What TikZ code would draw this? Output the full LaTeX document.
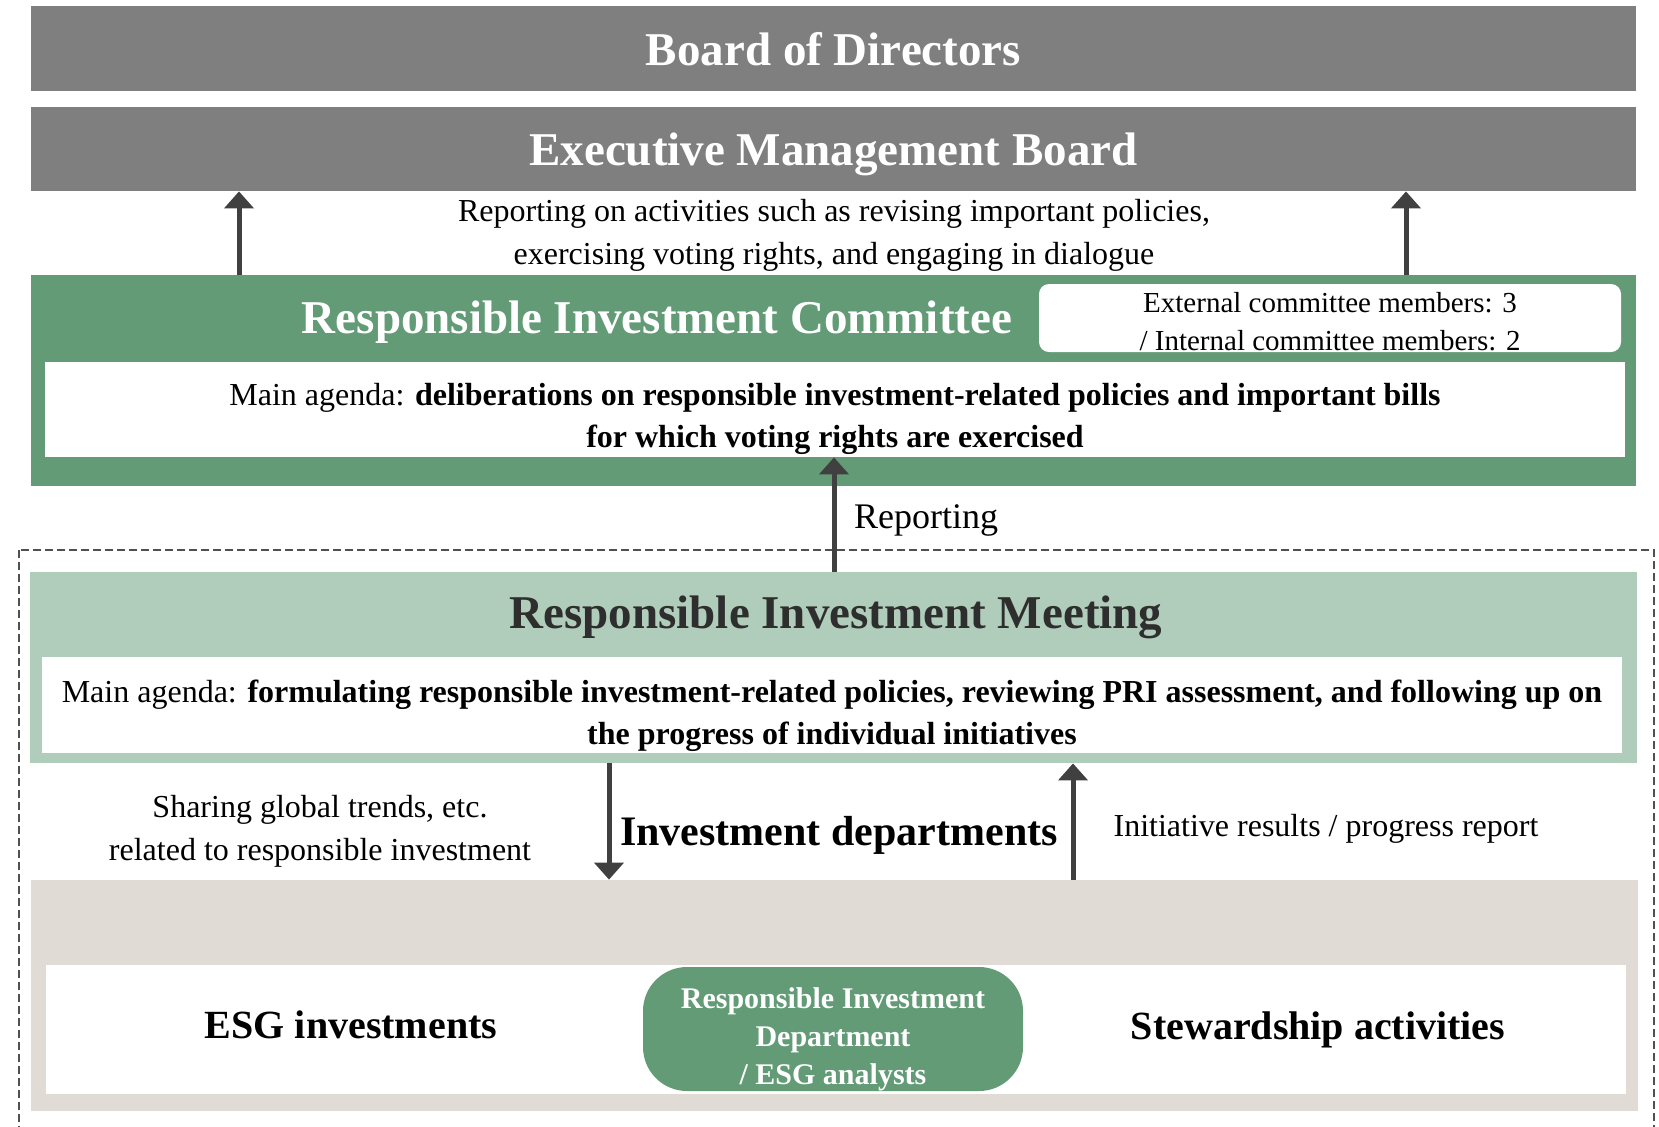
\documentclass[tikz,border=0pt]{standalone}
\usepackage{fontspec}
\setmainfont{Liberation Serif}
\usetikzlibrary{arrows.meta,calc,positioning}
\definecolor{gvgray}{HTML}{7F7F7F}
\definecolor{gvgreen}{HTML}{629B76}
\definecolor{gvpale}{HTML}{B0CCBB}
\definecolor{gvsand}{HTML}{E0DCD5}
\definecolor{gvarrow}{HTML}{404040}
\definecolor{gvtitle}{HTML}{2E2E2E}
\definecolor{gvdash}{HTML}{505050}
\tikzset{
  gvbar/.style={
    draw=none,
    inner sep=0pt,
    minimum width=802.5pt,
    align=center
  },
  gvgraybar/.style={
    gvbar,
    fill=gvgray,
    text=white,
    text depth=0pt,
    font=\fontsize{23.5}{28}\selectfont\bfseries
  },
  gvwhite/.style={
    draw=none,
    fill=white,
    inner sep=0pt,
    minimum width=790pt
  },
  gvagenda/.style={
    inner sep=0pt,
    align=center,
    font=\fontsize{16}{21}\selectfont
  },
  gvcard/.style={
    draw=none,
    fill=white,
    rounded corners=5pt,
    inner sep=0pt,
    minimum width=291pt,
    minimum height=34pt
  },
  gvdept/.style={
    draw=none,
    fill=gvgreen,
    rounded corners=22pt,
    inner sep=0pt,
    minimum width=190pt,
    minimum height=62pt
  },
  gvdepttext/.style={
    inner sep=0pt,
    align=center,
    text=white,
    font=\fontsize{15}{19}\selectfont\bfseries
  },
  gvtitle/.style={
    inner sep=0pt,
    text depth=0pt,
    font=\fontsize{23.5}{28}\selectfont\bfseries
  },
  gvnote/.style={
    inner sep=0pt,
    align=center,
    font=\fontsize{16}{21.5}\selectfont
  },
  gvfield/.style={
    inner sep=0pt,
    text depth=0pt,
    font=\fontsize{20}{24}\selectfont\bfseries
  },
  gvedge/.style={
    -{Triangle[length=8.5pt,width=14.5pt]},
    line width=2.5pt,
    color=gvarrow
  },
  gvframe/.style={
    draw=gvdash,
    line width=0.8pt,
    dash pattern=on 4pt off 2pt
  }
}

\begin{document}
\begin{tikzpicture}[x=0.5pt,y=-0.5pt]
  \useasboundingbox (0,0) rectangle (1659,1126);

  % top of the hierarchy
  \node[gvgraybar, minimum height=42.5pt] (board) at (833.5,48.5) {Board of Directors};
  \node[gvgraybar, minimum height=42pt] (exec) at (833.5,149) {Executive Management Board};

  \node[gvnote] (execnote) at (834,235) {Reporting on activities such as revising important policies,\\
    exercising voting rights, and engaging in dialogue};

  % committee
  \node[gvbar, fill=gvgreen, minimum height=105.5pt] (ric) at (833.5,380.5) {};
  \node[gvtitle, text=white] (rictitle) at (657,317) {Responsible Investment Committee};
  \node[gvcard] (members) at (1330,318) {};
  \node[gvagenda, font=\fontsize{14.5}{19}\selectfont] (memberstext) at (1330,322) {External committee members: 3\\
    / Internal committee members: 2};
  \node[gvwhite, minimum height=47.5pt] (ricagenda) at (835,409.5) {};
  \node[gvagenda] (ricagendatext) at (835,418.5) {Main agenda: \textbf{deliberations on responsible investment-related policies and important bills}\\
    \textbf{for which voting rights are exercised}};

  \node[gvnote, font=\fontsize{18}{22}\selectfont] (replabel) at (926,520) {Reporting};

  % dashed frame round the meeting and the departments
  \draw[gvframe] (19,550) rectangle (1654,1140);

  % meeting
  \node[gvbar, fill=gvpale, minimum width=803.5pt, minimum height=95.5pt] (rim) at (833.5,667.5) {};
  \node[gvtitle, text=gvtitle] (rimtitle) at (836,612) {Responsible Investment Meeting};
  \node[gvwhite, minimum height=48pt] (rimagenda) at (832,705) {};
  \node[gvagenda] (rimagendatext) at (832,716) {Main agenda: \textbf{formulating responsible investment-related policies, reviewing PRI assessment, and following up on}\\
    \textbf{the progress of individual initiatives}};

  \node[gvnote] (sharenote) at (320,831) {Sharing global trends, etc.\\
    related to responsible investment};
  \node[gvtitle, font=\fontsize{21}{25}\selectfont\bfseries] (invdept) at (839,831) {Investment departments};
  \node[gvnote] (resultnote) at (1326,829) {Initiative results / progress report};

  % departments
  \node[gvbar, fill=gvsand, minimum width=803.5pt, minimum height=115.5pt] (sand) at (834.5,995.5) {};
  \node[gvwhite, minimum height=64.5pt] (sandwhite) at (835.5,1029.5) {};
  \node[gvfield] (esg) at (351,1025) {ESG investments};
  \node[gvfield] (steward) at (1318,1026) {Stewardship activities};
  \node[gvdept] (dept) at (833,1029) {};
  \node[gvdepttext] (depttext) at (833,1039) {Responsible Investment\\
    Department\\
    / ESG analysts};

  % arrows
  \coordinate (upl) at (239,0);
  \coordinate (upr) at (1406,0);
  \coordinate (rep) at (834,0);
  \coordinate (down) at (609,0);
  \coordinate (back) at (1073,0);
  \draw[gvedge] (ric.north -| upl) -- (exec.south -| upl);
  \draw[gvedge] (ric.north -| upr) -- (exec.south -| upr);
  \draw[gvedge] (rim.north -| rep) -- (ricagenda.south -| rep);
  \draw[gvedge] (rim.south -| down) -- (sand.north -| down);
  \draw[gvedge] (sand.north -| back) -- (rim.south -| back);
\end{tikzpicture}
\end{document}
